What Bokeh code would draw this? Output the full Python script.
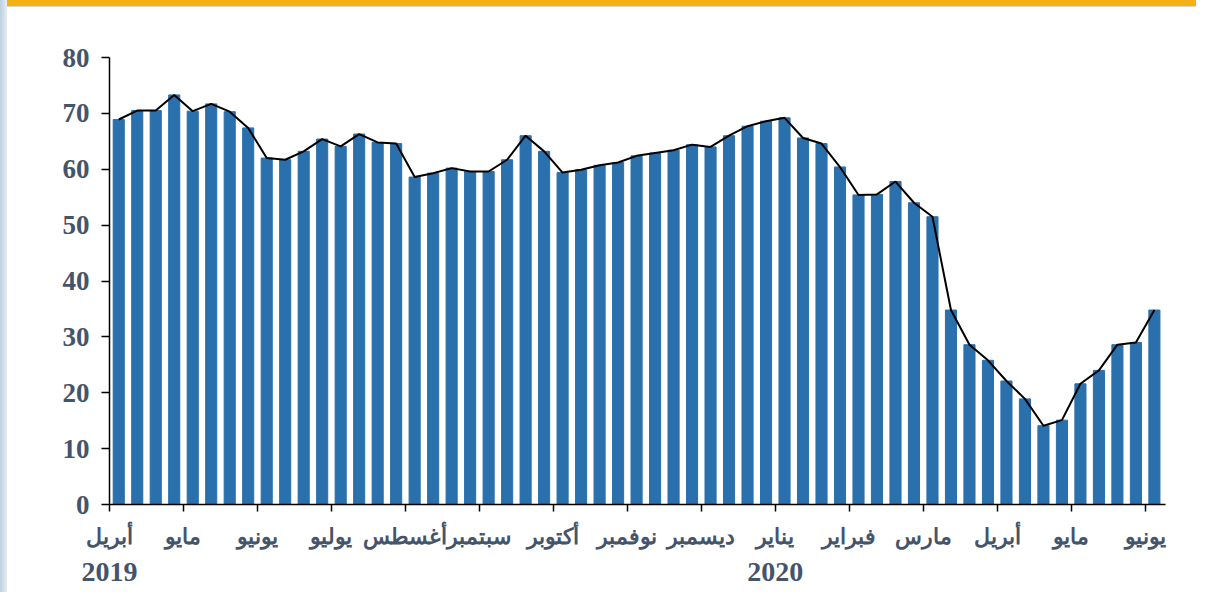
from bokeh.plotting import figure
from bokeh.models import Range1d, FixedTicker, LinearAxis, Div
from bokeh.layouts import column, row
from bokeh.embed import file_html
from bokeh.resources import INLINE

# Weekly index values, April 2019 - June 2020
values = [68.9, 70.5, 70.5, 73.3, 70.4, 71.7, 70.3, 67.4, 62.0, 61.7,
          63.2, 65.4, 64.1, 66.3, 64.8, 64.6, 58.6, 59.3, 60.2, 59.6,
          59.6, 61.7, 66.0, 63.2, 59.4, 59.9, 60.7, 61.2, 62.4, 62.9,
          63.4, 64.4, 64.0, 66.0, 67.7, 68.6, 69.2, 65.6, 64.6, 60.4,
          55.4, 55.5, 57.8, 54.0, 51.5, 34.8, 28.6, 25.8, 22.1, 18.9,
          14.1, 15.1, 21.6, 24.0, 28.6, 29.0, 34.8]

month_labels = ["أبريل", "مايو", "يونيو", "يوليو", "أغسطس", "سبتمبر", "أكتوبر",
                "نوفمبر", "ديسمبر", "يناير", "فبراير", "مارس", "أبريل", "مايو", "يونيو"]
year_labels = ["2019", "2020"]
year_month_index = [0, 9]
bars_per_month = 4
y_ticks = [0, 10, 20, 30, 40, 50, 60, 70, 80]

BAR = "#2970AC"
TXT = "#44546A"

x = [i + 0.5 for i in range(len(values))]
month_ticks = [bars_per_month * i for i in range(len(month_labels))]
year_ticks = [bars_per_month * i for i in year_month_index]

p = figure(width=1189, height=584, output_backend="svg", toolbar_location=None,
           x_range=Range1d(0, len(values) + 0.1), y_range=Range1d(0, 80),
           x_axis_location=None, y_axis_location=None,
           min_border_left=102, min_border_right=31, min_border_top=50,
           min_border_bottom=87)
p.outline_line_color = None
p.xgrid.visible = False
p.ygrid.visible = False
p.background_fill_color = "white"
p.border_fill_color = "white"

p.vbar(x=x, top=values, width=0.6, bottom=0, color=BAR)
p.line(x=x, y=values, line_color="black", line_width=2)

# y axis
ya = LinearAxis(ticker=FixedTicker(ticks=y_ticks))
ya.axis_line_color = "black"
ya.axis_line_width = 1.5
ya.major_tick_out = 8
ya.major_tick_in = 0
ya.major_tick_line_color = "black"
ya.major_tick_line_width = 1.5
ya.minor_tick_line_color = None
ya.major_label_standoff = 12
ya.major_label_text_font = "Liberation Serif"
ya.major_label_text_font_style = "bold"
ya.major_label_text_font_size = "27px"
ya.major_label_text_color = TXT
p.add_layout(ya, "left")

# x axis with month labels
xa = LinearAxis(ticker=FixedTicker(ticks=month_ticks))
xa.major_label_overrides = {t: lab for t, lab in zip(month_ticks, month_labels)}
xa.axis_line_color = "black"
xa.axis_line_width = 1.5
xa.major_tick_out = 7
xa.major_tick_in = 0
xa.major_tick_line_color = "black"
xa.major_tick_line_width = 1.5
xa.minor_tick_line_color = None
xa.major_label_standoff = 12
xa.major_label_text_font = "Liberation Serif"
xa.major_label_text_font_style = "bold"
xa.major_label_text_font_size = "22px"
xa.major_label_text_color = TXT
p.add_layout(xa, "below")

# second axis with years
ya2 = LinearAxis(ticker=FixedTicker(ticks=year_ticks))
ya2.major_label_overrides = {t: lab for t, lab in zip(year_ticks, year_labels)}
ya2.axis_line_color = None
ya2.major_tick_line_color = None
ya2.minor_tick_line_color = None
ya2.major_tick_out = 0
ya2.major_tick_in = 0
ya2.major_label_standoff = 11
ya2.major_label_text_font = "Liberation Serif"
ya2.major_label_text_font_style = "bold"
ya2.major_label_text_font_size = "28px"
ya2.major_label_text_color = TXT
p.add_layout(ya2, "below")

band = Div(text="", width=1189, height=7, margin=0,
           styles={"background-color": "#F4B116", "border-bottom": "1px solid #d8d8d8"})
strip = Div(text="", width=7, height=592, margin=0,
            styles={"background": "linear-gradient(to right, #bcd0de, #e6eef4)"})

layout = row(strip, column(band, p, spacing=0), spacing=0)
open("out.html", "w").write(file_html(layout, INLINE))
